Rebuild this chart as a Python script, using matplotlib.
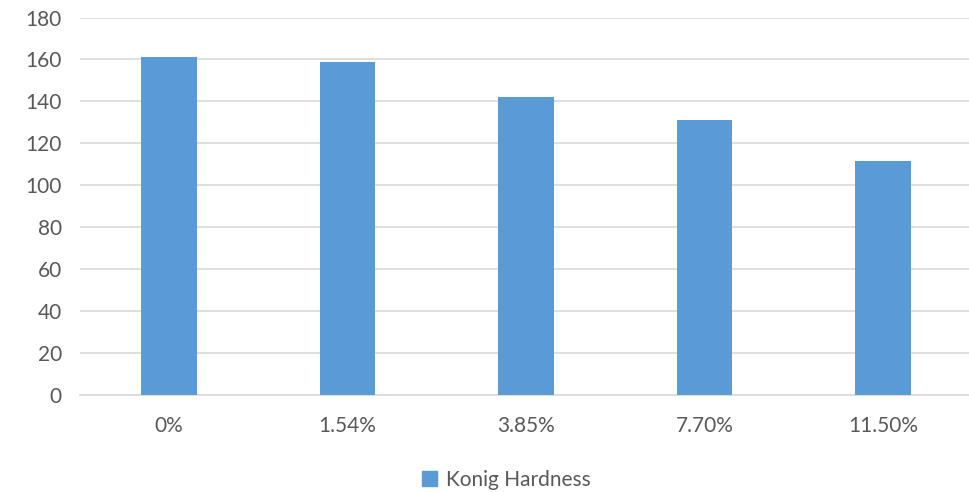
import matplotlib.pyplot as plt
from matplotlib.patches import Patch

plt.rcParams['font.family'] = ['Lato', 'DejaVu Sans']
plt.rcParams['font.size'] = 15

# data
categories = ['0%', '1.54%', '3.85%', '7.70%', '11.50%']
hardness = [161, 159, 142, 131, 111.5]
series_name = 'Konig Hardness'

fig = plt.figure(figsize=(9.7, 4.92), dpi=100)
ax = fig.add_axes([80 / 970, 1 - 395 / 492, 892 / 970, (395 - 17.5) / 492])

x = range(len(categories))
ax.bar(x, hardness, width=0.312, color='#5B9BD5', zorder=3)

ax.set_xlim(-0.5, len(categories) - 0.5)
ax.set_ylim(0, 180)
ax.set_yticks(range(0, 181, 20))
ax.set_xticks(list(x))
ax.set_xticklabels(categories)

ax.grid(axis='y', color='#D9D9D9', linewidth=1.2, zorder=0)
for s in ['top', 'right', 'left']:
    ax.spines[s].set_visible(False)
ax.spines['bottom'].set_color('#D9D9D9')
ax.spines['bottom'].set_linewidth(1.2)
ax.tick_params(axis='both', length=0, colors='#595959', labelsize=15)
ax.tick_params(axis='x', pad=15)
ax.tick_params(axis='y', pad=13)

handles = [Patch(color='#5B9BD5', label=series_name)]
fig.legend(handles=handles, loc='center', bbox_to_anchor=(506 / 970, 1 - 480 / 492),
           frameon=False, handlelength=0.75, handleheight=0.75, handletextpad=0.4,
           labelcolor='#595959', fontsize=15)

fig.savefig('out.png', dpi=100)
